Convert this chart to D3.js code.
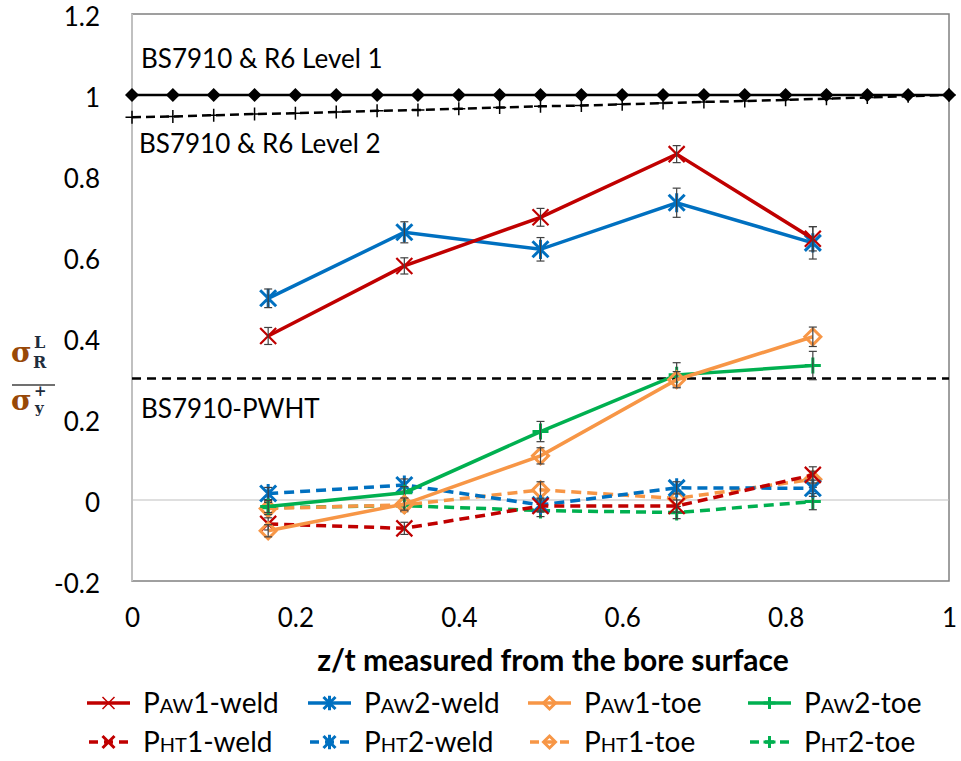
<!DOCTYPE html>
<html>
<head>
<meta charset="utf-8">
<script src="https://cdn.jsdelivr.net/npm/d3@7"></script>
<style>
  body { margin: 0; background: #fff; }
  text { font-family: Lato, "Open Sans", sans-serif; fill: #000; }
  text.serif { font-family: "DejaVu Serif", "Liberation Serif", serif; font-weight: bold; }
</style>
</head>
<body>
<svg id="chart" width="961" height="761"></svg>
<script>
// positions through the wall thickness
var zt = [1/6, 2/6, 3/6, 4/6, 5/6];

// assessment curves
var levelX = [0,0.05,0.1,0.15,0.2,0.25,0.3,0.35,0.4,0.45,0.5,0.55,0.6,0.65,0.7,0.75,0.8,0.85,0.9,0.95,1];
var level1 = [1,1,1,1,1,1,1,1,1,1,1,1,1,1,1,1,1,1,1,1,1];
var level2 = [0.945,0.947,0.95,0.953,0.955,0.958,0.961,0.963,0.966,0.969,0.972,0.974,0.977,0.98,0.983,0.985,0.988,0.991,0.994,0.997,1];
var pwht = 0.3;

// measured residual stress, normalised
var paw1Weld = [0.405, 0.578, 0.698, 0.854, 0.645];
var paw2Weld = [0.498, 0.661, 0.619, 0.734, 0.635];
var paw1Toe  = [-0.076, -0.01, 0.109, 0.297, 0.403];
var paw2Toe  = [-0.016, 0.018, 0.169, 0.309, 0.332];
var pht1Weld = [-0.059, -0.07, -0.015, -0.015, 0.062];
var pht2Weld = [0.016, 0.037, -0.012, 0.030, 0.029];
var pht1Toe  = [-0.021, -0.012, 0.025, 0.004, 0.051];
var pht2Toe  = [-0.019, -0.014, -0.026, -0.031, -0.004];

// error bar half widths
var paw1WeldErr = [0.021, 0.02, 0.022, 0.021, 0.03];
var paw2WeldErr = [0.023, 0.026, 0.029, 0.036, 0.04];
var paw1ToeErr  = [0.015, 0.015, 0.02, 0.02, 0.024];
var paw2ToeErr  = [0.015, 0.015, 0.025, 0.03, 0.035];
var pht1WeldErr = [0.015, 0.015, 0.015, 0.015, 0.02];
var pht2WeldErr = [0.015, 0.015, 0.015, 0.015, 0.02];
var pht1ToeErr  = [0.015, 0.015, 0.02, 0.02, 0.02];
var pht2ToeErr  = [0.015, 0.015, 0.015, 0.015, 0.02];

var xTicks = [0, 0.2, 0.4, 0.6, 0.8, 1];
var yTicks = [-0.2, 0, 0.2, 0.4, 0.6, 0.8, 1, 1.2];

var series = [
  {name: ["P","AW","1-weld"], values: paw1Weld, err: paw1WeldErr, color: "#c00000", marker: "x", dash: null},
  {name: ["P","AW","2-weld"], values: paw2Weld, err: paw2WeldErr, color: "#0070c0", marker: "star", dash: null},
  {name: ["P","AW","1-toe"],  values: paw1Toe,  err: paw1ToeErr,  color: "#f79646", marker: "diamond", dash: null},
  {name: ["P","AW","2-toe"],  values: paw2Toe,  err: paw2ToeErr,  color: "#00b050", marker: "plus", dash: null},
  {name: ["P","HT","1-weld"], values: pht1Weld, err: pht1WeldErr, color: "#c00000", marker: "x", dash: "10,6"},
  {name: ["P","HT","2-weld"], values: pht2Weld, err: pht2WeldErr, color: "#0070c0", marker: "star", dash: "10,6"},
  {name: ["P","HT","1-toe"],  values: pht1Toe,  err: pht1ToeErr,  color: "#f79646", marker: "diamond", dash: "10,6"},
  {name: ["P","HT","2-toe"],  values: pht2Toe,  err: pht2ToeErr,  color: "#00b050", marker: "plus", dash: "10,6"}
];

var svg = d3.select("#chart");
var x = d3.scaleLinear().domain([0, 1]).range([132, 949]);
var y = d3.scaleLinear().domain([-0.2, 1.2]).range([581, 14]);

function markerPath(type, s) {
  if (type === "x") return "M"+(-s)+","+(-s)+"L"+s+","+s+"M"+(-s)+","+s+"L"+s+","+(-s);
  if (type === "star") return "M"+(-s)+","+(-s)+"L"+s+","+s+"M"+(-s)+","+s+"L"+s+","+(-s)+"M0,"+(-s*1.2)+"L0,"+(s*1.2);
  if (type === "diamond") return "M0,"+(-s)+"L"+s+",0L0,"+s+"L"+(-s)+",0Z";
  if (type === "plus") return "M"+(-s)+",0L"+s+",0M0,"+(-s)+"L0,"+s;
}

// plot frame
svg.append("rect")
  .attr("x", x(0)).attr("y", y(1.2))
  .attr("width", x(1) - x(0)).attr("height", y(-0.2) - y(1.2))
  .attr("fill", "none").attr("stroke", "#808080").attr("stroke-width", 1.5);
svg.append("line")
  .attr("x1", x(0)).attr("x2", x(0)).attr("y1", y(1.2)).attr("y2", y(-0.2))
  .attr("stroke", "#c0c0c0").attr("stroke-width", 2);
svg.append("line")
  .attr("x1", x(0)).attr("x2", x(1)).attr("y1", y(0)).attr("y2", y(0))
  .attr("stroke", "#bfbfbf").attr("stroke-width", 1.2);

// axes
var yAxis = svg.append("g")
  .attr("transform", "translate(" + x(0) + ",3)")
  .call(d3.axisLeft(y).tickValues(yTicks).tickSize(0).tickPadding(32)
    .tickFormat(d => String(+d.toFixed(1))));
yAxis.select(".domain").remove();
yAxis.selectAll("text").style("font-size", "26px").style("font-family", "Lato, sans-serif").attr("fill", "#000");

var xAxis = svg.append("g")
  .attr("transform", "translate(0," + (y(-0.2) + 2) + ")")
  .call(d3.axisBottom(x).tickValues(xTicks).tickSize(0).tickPadding(26)
    .tickFormat(d => String(+d.toFixed(1))));
xAxis.select(".domain").remove();
xAxis.selectAll("text").style("font-size", "26px").style("font-family", "Lato, sans-serif").attr("fill", "#000");

svg.append("text")
  .attr("x", 553).attr("y", 671)
  .attr("text-anchor", "middle")
  .style("font-size", "30px").style("font-weight", "bold")
  .text("z/t measured from the bore surface");

// y axis label: sigma_R^L / sigma_y^+
var yl = svg.append("g");
yl.append("text").attr("class", "serif").attr("x", 11).attr("y", 362).style("font-size", "28px").style("fill", "#984807").text("σ");
yl.append("text").attr("class", "serif").attr("x", 34).attr("y", 348).style("font-size", "16px").style("fill", "#1f2d3d").text("L");
yl.append("text").attr("class", "serif").attr("x", 33).attr("y", 368).style("font-size", "16px").style("fill", "#1f2d3d").text("R");
yl.append("line").attr("x1", 12).attr("x2", 55).attr("y1", 385).attr("y2", 385).attr("stroke", "#404040").attr("stroke-width", 1.5);
yl.append("text").attr("class", "serif").attr("x", 11).attr("y", 410).style("font-size", "28px").style("fill", "#984807").text("σ");
yl.append("text").attr("class", "serif").attr("x", 34).attr("y", 396).style("font-size", "15px").style("fill", "#1f2d3d").text("+");
yl.append("text").attr("class", "serif").attr("x", 35).attr("y", 413).style("font-size", "15px").style("fill", "#1f2d3d").text("y");

// reference lines
var refLine = d3.line().x((d, i) => x(levelX[i])).y(d => y(d));
svg.append("path").datum(level2)
  .attr("d", refLine).attr("fill", "none").attr("stroke", "#000")
  .attr("stroke-width", 2.5).attr("stroke-dasharray", "9,5");
svg.selectAll(".l2m").data(level2).enter().append("path")
  .attr("transform", (d, i) => "translate(" + x(levelX[i]) + "," + y(d) + ")")
  .attr("d", markerPath("plus", 6.5)).attr("stroke", "#000").attr("stroke-width", 1.5);
svg.append("path").datum(level1)
  .attr("d", refLine).attr("fill", "none").attr("stroke", "#000").attr("stroke-width", 2.5);
svg.selectAll(".l1m").data(level1).enter().append("path")
  .attr("transform", (d, i) => "translate(" + x(levelX[i]) + "," + y(d) + ")")
  .attr("d", markerPath("diamond", 7)).attr("fill", "#000");

svg.append("line")
  .attr("x1", x(0)).attr("x2", x(1)).attr("y1", y(pwht)).attr("y2", y(pwht))
  .attr("stroke", "#000").attr("stroke-width", 2.5).attr("stroke-dasharray", "9,6");

svg.append("text").attr("x", 141).attr("y", 68).style("font-size", "26px").text("BS7910 & R6 Level 1");
svg.append("text").attr("x", 139).attr("y", 153).style("font-size", "26px").text("BS7910 & R6 Level 2");
svg.append("text").attr("x", 141).attr("y", 418).style("font-size", "26px").text("BS7910-PWHT");

// data series
var line = d3.line().x((d, i) => x(zt[i])).y(d => y(d));
series.slice().reverse().forEach(function(s) {
  var g = svg.append("g");
  g.append("path").datum(s.values)
    .attr("d", line).attr("fill", "none").attr("stroke", s.color)
    .attr("stroke-width", 3.5).attr("stroke-dasharray", s.dash);
  g.selectAll(".m").data(s.values).enter().append("path")
    .attr("transform", (d, i) => "translate(" + x(zt[i]) + "," + y(d) + ")")
    .attr("d", markerPath(s.marker, 8)).attr("fill", "none")
    .attr("stroke", s.color).attr("stroke-width", s.marker === "x" ? 2.2 : 3);
  var eb = g.selectAll(".eb").data(s.values).enter().append("g")
    .attr("stroke", "#404040").attr("stroke-width", 1.2);
  eb.append("line")
    .attr("x1", (d, i) => x(zt[i])).attr("x2", (d, i) => x(zt[i]))
    .attr("y1", (d, i) => y(d + s.err[i])).attr("y2", (d, i) => y(d - s.err[i]));
  eb.append("line")
    .attr("x1", (d, i) => x(zt[i]) - 4).attr("x2", (d, i) => x(zt[i]) + 4)
    .attr("y1", (d, i) => y(d + s.err[i])).attr("y2", (d, i) => y(d + s.err[i]));
  eb.append("line")
    .attr("x1", (d, i) => x(zt[i]) - 4).attr("x2", (d, i) => x(zt[i]) + 4)
    .attr("y1", (d, i) => y(d - s.err[i])).attr("y2", (d, i) => y(d - s.err[i]));
});

// legend
var legX = [87, 308, 528, 748];
var legY = [703, 742];
series.forEach(function(s, k) {
  var lx = legX[k % 4], ly = legY[Math.floor(k / 4)];
  var g = svg.append("g").attr("transform", "translate(" + lx + "," + ly + ")");
  g.append("line").attr("x1", 0).attr("x2", 43).attr("y1", 0).attr("y2", 0)
    .attr("stroke", s.color).attr("stroke-width", 3.5)
    .attr("stroke-dasharray", s.dash ? "9,6" : null)
    .attr("stroke-dashoffset", s.dash ? -2 : 0);
  g.append("path").attr("transform", "translate(21.5,0)")
    .attr("d", markerPath(s.marker, 6)).attr("fill", "none")
    .attr("stroke", s.color).attr("stroke-width", s.marker === "x" && !s.dash ? 1.5 : 3);
  var t = g.append("text").attr("x", 56).attr("y", 10).style("font-size", "28px");
  t.append("tspan").text(s.name[0]);
  t.append("tspan").style("font-size", "20px").text(s.name[1]);
  t.append("tspan").text(s.name[2]);
});
</script>
</body>
</html>
